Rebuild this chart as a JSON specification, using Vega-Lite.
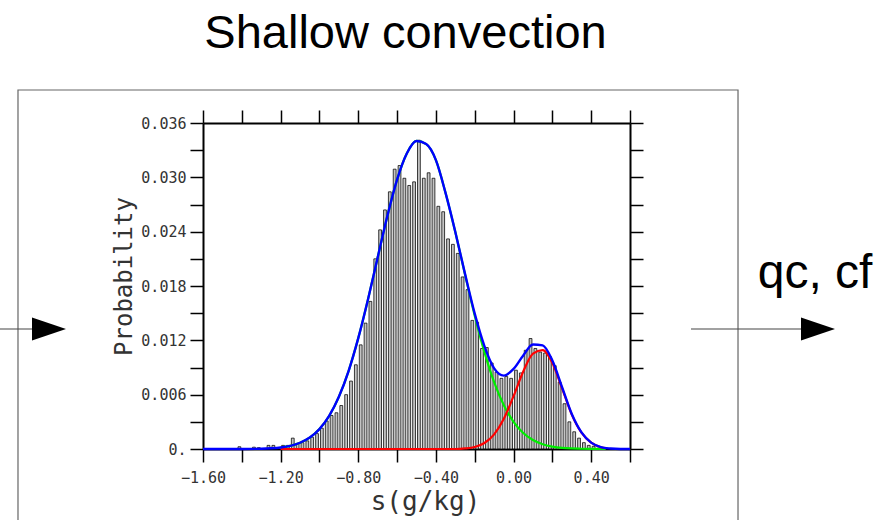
{
  "$schema": "https://vega.github.io/schema/vega-lite/v6.json",
  "autosize": "none",
  "width": 427,
  "height": 326,
  "padding": {"left": 203, "top": 123, "right": 252, "bottom": 71},
  "background": "white",
  "config": {"view": {"stroke": null}, "axis": {"grid": false}, "scale": {"continuousPadding": 0}},
  "datasets": {
    "bars": [
      {"c": -1.4125, "v": 0.00025}, {"c": -1.3375, "v": 0.0002}, {"c": -1.3125, "v": 0.00015},
      {"c": -1.2625, "v": 0.0004}, {"c": -1.2375, "v": 0.0004}, {"c": -1.1875, "v": 0.0004},
      {"c": -1.1625, "v": 0.0004}, {"c": -1.1375, "v": 0.0012}, {"c": -1.1125, "v": 0.0006},
      {"c": -1.0875, "v": 0.0007}, {"c": -1.0625, "v": 0.0009}, {"c": -1.0375, "v": 0.0013},
      {"c": -1.0125, "v": 0.0017}, {"c": -0.9875, "v": 0.0023}, {"c": -0.9625, "v": 0.0031},
      {"c": -0.9375, "v": 0.0037}, {"c": -0.9125, "v": 0.004}, {"c": -0.8875, "v": 0.0048},
      {"c": -0.8625, "v": 0.006}, {"c": -0.8375, "v": 0.0075}, {"c": -0.8125, "v": 0.0093},
      {"c": -0.7875, "v": 0.0115}, {"c": -0.7625, "v": 0.0139}, {"c": -0.7375, "v": 0.0163},
      {"c": -0.7125, "v": 0.021}, {"c": -0.6875, "v": 0.0242}, {"c": -0.6625, "v": 0.0264},
      {"c": -0.6375, "v": 0.0284}, {"c": -0.6125, "v": 0.0309}, {"c": -0.5875, "v": 0.0313},
      {"c": -0.5625, "v": 0.0299}, {"c": -0.5375, "v": 0.0291}, {"c": -0.5125, "v": 0.0295},
      {"c": -0.4875, "v": 0.0341}, {"c": -0.4625, "v": 0.0299}, {"c": -0.4375, "v": 0.0305},
      {"c": -0.4125, "v": 0.0299}, {"c": -0.3875, "v": 0.0268}, {"c": -0.3625, "v": 0.0262},
      {"c": -0.3375, "v": 0.0232}, {"c": -0.3125, "v": 0.0226}, {"c": -0.2875, "v": 0.0216},
      {"c": -0.2625, "v": 0.019}, {"c": -0.2375, "v": 0.0176}, {"c": -0.2125, "v": 0.0142},
      {"c": -0.1875, "v": 0.014}, {"c": -0.1625, "v": 0.0111}, {"c": -0.1375, "v": 0.0112},
      {"c": -0.1125, "v": 0.0095}, {"c": -0.0875, "v": 0.0085}, {"c": -0.0625, "v": 0.0078},
      {"c": -0.0375, "v": 0.008}, {"c": -0.0125, "v": 0.0078}, {"c": 0.0125, "v": 0.0087},
      {"c": 0.0375, "v": 0.0084}, {"c": 0.0625, "v": 0.0109}, {"c": 0.0875, "v": 0.0122},
      {"c": 0.1125, "v": 0.0111}, {"c": 0.1375, "v": 0.0107}, {"c": 0.1625, "v": 0.0106},
      {"c": 0.1875, "v": 0.0102}, {"c": 0.2125, "v": 0.0092}, {"c": 0.2375, "v": 0.0074},
      {"c": 0.2625, "v": 0.005}, {"c": 0.2875, "v": 0.003}, {"c": 0.3125, "v": 0.0019},
      {"c": 0.3375, "v": 0.0012}, {"c": 0.3625, "v": 0.0007}, {"c": 0.3875, "v": 0.0004},
      {"c": 0.4125, "v": 0.0003}, {"c": 0.4375, "v": 0.0001}
    ],
    "blue": [
      {"s": -1.6, "v": 0}, {"s": -1.4, "v": 0}, {"s": -1.3, "v": 0.00003}, {"s": -1.25, "v": 0.00008},
      {"s": -1.2, "v": 0.00017}, {"s": -1.15, "v": 0.00035}, {"s": -1.1, "v": 0.00069}, {"s": -1.05, "v": 0.00126},
      {"s": -1.0, "v": 0.0022}, {"s": -0.95, "v": 0.00365}, {"s": -0.9, "v": 0.00576}, {"s": -0.85, "v": 0.00861},
      {"s": -0.8, "v": 0.01224}, {"s": -0.75, "v": 0.01651}, {"s": -0.7, "v": 0.02116}, {"s": -0.65, "v": 0.02574},
      {"s": -0.6, "v": 0.02975}, {"s": -0.55, "v": 0.03264}, {"s": -0.5, "v": 0.03402}, {"s": -0.45, "v": 0.03367},
      {"s": -0.4, "v": 0.0319}, {"s": -0.35, "v": 0.02825}, {"s": -0.3, "v": 0.02397}, {"s": -0.25, "v": 0.01934},
      {"s": -0.2, "v": 0.01495}, {"s": -0.15, "v": 0.01136}, {"s": -0.1, "v": 0.0089}, {"s": -0.05, "v": 0.0081},
      {"s": 0.0, "v": 0.00884}, {"s": 0.05, "v": 0.01033}, {"s": 0.1, "v": 0.01154}, {"s": 0.15, "v": 0.01144},
      {"s": 0.2, "v": 0.00977}, {"s": 0.25, "v": 0.00683}, {"s": 0.3, "v": 0.00386}, {"s": 0.35, "v": 0.00183},
      {"s": 0.4, "v": 0.0007}, {"s": 0.45, "v": 0.0002}, {"s": 0.5, "v": 0.00005}, {"s": 0.55, "v": 0}, {"s": 0.6, "v": 0}
    ],
    "green": [
      {"s": -1.2, "v": 0.00017}, {"s": -1.15, "v": 0.00035}, {"s": -1.1, "v": 0.00069}, {"s": -1.05, "v": 0.00126},
      {"s": -1.0, "v": 0.0022}, {"s": -0.95, "v": 0.00365}, {"s": -0.9, "v": 0.00576}, {"s": -0.85, "v": 0.00861},
      {"s": -0.8, "v": 0.01224}, {"s": -0.75, "v": 0.01651}, {"s": -0.7, "v": 0.02116}, {"s": -0.65, "v": 0.02574},
      {"s": -0.6, "v": 0.02975}, {"s": -0.55, "v": 0.03264}, {"s": -0.5, "v": 0.03402}, {"s": -0.45, "v": 0.03367},
      {"s": -0.4, "v": 0.0319}, {"s": -0.35, "v": 0.02825}, {"s": -0.3, "v": 0.02395}, {"s": -0.25, "v": 0.01928},
      {"s": -0.2, "v": 0.01473}, {"s": -0.15, "v": 0.0107}, {"s": -0.1, "v": 0.00738}, {"s": -0.05, "v": 0.00483},
      {"s": 0.0, "v": 0.003}, {"s": 0.05, "v": 0.00177}, {"s": 0.1, "v": 0.001}, {"s": 0.15, "v": 0.00053},
      {"s": 0.2, "v": 0.00027}, {"s": 0.25, "v": 0.00013}, {"s": 0.3, "v": 0.00006}, {"s": 0.35, "v": 0.00003},
      {"s": 0.4, "v": 0.00001}, {"s": 0.475, "v": 0}
    ],
    "red": [
      {"s": -1.2, "v": 0}, {"s": -0.3, "v": 0}, {"s": -0.25, "v": 0.00006}, {"s": -0.2, "v": 0.00022},
      {"s": -0.15, "v": 0.00066}, {"s": -0.1, "v": 0.00162}, {"s": -0.05, "v": 0.00335}, {"s": 0.0, "v": 0.00584},
      {"s": 0.05, "v": 0.00856}, {"s": 0.1, "v": 0.01054}, {"s": 0.15, "v": 0.01091}, {"s": 0.2, "v": 0.0095},
      {"s": 0.25, "v": 0.0067}, {"s": 0.3, "v": 0.0038}, {"s": 0.35, "v": 0.0018}, {"s": 0.4, "v": 0.0007},
      {"s": 0.45, "v": 0.0002}, {"s": 0.475, "v": 0.0001}
    ]
  },
  "layer": [
    {
      "data": {"values": [{}]},
      "mark": {"type": "rect", "fillOpacity": 0, "stroke": "#666666", "strokeWidth": 1.2},
      "encoding": {
        "x": {"datum": -2.5532, "type": "quantitative", "scale": {"domain": [-1.6, 0.6], "nice": false, "zero": false, "padding": 0}, "axis": null},
        "x2": {"datum": 1.1565},
        "y": {"datum": 0.039644, "type": "quantitative", "scale": {"domain": [0, 0.036], "nice": false, "padding": 0}, "axis": null},
        "y2": {"datum": -0.0095}
      }
    },
    {
      "data": {"name": "bars"},
      "mark": {"type": "bar", "size": 2.8, "fill": "#c4c4c4", "stroke": "black", "strokeWidth": 0.75},
      "encoding": {
        "x": {
          "field": "c", "type": "quantitative",
          "scale": {"domain": [-1.6, 0.6], "nice": false, "zero": false, "padding": 0},
          "axis": {
            "orient": "bottom",
            "values": [-1.6, -1.4, -1.2, -1.0, -0.8, -0.6, -0.4, -0.2, 0, 0.2, 0.4, 0.6],
            "labelExpr": "abs(round(datum.value*10)) % 4 == 0 && datum.value < 0.5 ? format(datum.value, '.2f') : ''",
            "tickSize": 13, "tickWidth": 1.5, "tickColor": "black",
            "domainColor": "black", "domainWidth": 2,
            "labelFont": "DejaVu Sans Mono", "labelFontSize": 15, "labelColor": "#333333",
            "labelPadding": 8, "labelOverlap": false, "labelFlush": false, "labelBound": false,
            "title": "s(g/kg)", "titleFont": "DejaVu Sans Mono", "titleFontSize": 26,
            "titleFontWeight": "normal", "titleColor": "#333333", "titlePadding": 3, "titleX": 222, "grid": false
          }
        },
        "y": {
          "field": "v", "type": "quantitative",
          "scale": {"domain": [0, 0.036], "nice": false, "padding": 0},
          "axis": {
            "orient": "left",
            "values": [0, 0.003, 0.006, 0.009, 0.012, 0.015, 0.018, 0.021, 0.024, 0.027, 0.03, 0.033, 0.036],
            "labelExpr": "round(datum.value*1000) % 6 == 0 ? (datum.value == 0 ? '0.' : format(datum.value, '.3f')) : ''",
            "tickSize": 13, "tickWidth": 1.5, "tickColor": "black",
            "domainColor": "black", "domainWidth": 2,
            "labelFont": "DejaVu Sans Mono", "labelFontSize": 15, "labelColor": "#333333",
            "labelPadding": 4, "labelOverlap": false, "labelFlush": false, "labelBound": false,
            "title": "Probability", "titleFont": "DejaVu Sans Mono", "titleFontSize": 24,
            "titleFontWeight": "normal", "titleColor": "#333333", "titlePadding": 4, "titleY": 153, "grid": false
          }
        }
      }
    },
    {
      "data": {"name": "green"},
      "mark": {"type": "line", "color": "#00ee00", "strokeWidth": 2.2, "interpolate": "monotone"},
      "encoding": {
        "x": {"field": "s", "type": "quantitative", "scale": {"domain": [-1.6, 0.6], "nice": false, "zero": false, "padding": 0}, "axis": null},
        "y": {"field": "v", "type": "quantitative", "scale": {"domain": [0, 0.036], "nice": false, "padding": 0}, "axis": null}
      }
    },
    {
      "data": {"name": "red"},
      "mark": {"type": "line", "color": "#ff0000", "strokeWidth": 2.2, "interpolate": "monotone"},
      "encoding": {
        "x": {"field": "s", "type": "quantitative", "scale": {"domain": [-1.6, 0.6], "nice": false, "zero": false, "padding": 0}, "axis": null},
        "y": {"field": "v", "type": "quantitative", "scale": {"domain": [0, 0.036], "nice": false, "padding": 0}, "axis": null}
      }
    },
    {
      "data": {"name": "blue"},
      "mark": {"type": "line", "color": "#0000ff", "strokeWidth": 2.4, "interpolate": "monotone"},
      "encoding": {
        "x": {
          "field": "s", "type": "quantitative",
          "scale": {"domain": [-1.6, 0.6], "nice": false, "zero": false, "padding": 0},
          "axis": {
            "orient": "top", "labels": false, "title": null,
            "values": [-1.6, -1.4, -1.2, -1.0, -0.8, -0.6, -0.4, -0.2, 0, 0.2, 0.4, 0.6],
            "tickSize": 13, "tickWidth": 1.5, "tickColor": "black",
            "domainColor": "black", "domainWidth": 2, "grid": false
          }
        },
        "y": {
          "field": "v", "type": "quantitative",
          "scale": {"domain": [0, 0.036], "nice": false, "padding": 0},
          "axis": {
            "orient": "right", "labels": false, "title": null,
            "values": [0, 0.003, 0.006, 0.009, 0.012, 0.015, 0.018, 0.021, 0.024, 0.027, 0.03, 0.033, 0.036],
            "tickSize": 13, "tickWidth": 1.5, "tickColor": "black",
            "domainColor": "black", "domainWidth": 2, "grid": false
          }
        }
      }
    },
    {
      "data": {"values": [{}]},
      "mark": {"type": "rule", "color": "#444444", "strokeWidth": 1.2},
      "encoding": {
        "x": {"datum": -2.6459, "type": "quantitative", "scale": {"domain": [-1.6, 0.6], "nice": false, "zero": false, "padding": 0}, "axis": null},
        "x2": {"datum": -2.4398},
        "y": {"datum": 0.013252, "type": "quantitative", "scale": {"domain": [0, 0.036], "nice": false, "padding": 0}, "axis": null}
      }
    },
    {
      "data": {"values": [{}]},
      "mark": {"type": "rule", "color": "#444444", "strokeWidth": 1.2},
      "encoding": {
        "x": {"datum": 0.9143, "type": "quantitative", "scale": {"domain": [-1.6, 0.6], "nice": false, "zero": false, "padding": 0}, "axis": null},
        "x2": {"datum": 1.5017},
        "y": {"datum": 0.013252, "type": "quantitative", "scale": {"domain": [0, 0.036], "nice": false, "padding": 0}, "axis": null}
      }
    },
    {
      "data": {"values": [{}]},
      "mark": {"type": "point", "shape": "M-1,-0.68L1,0L-1,0.68Z", "size": 1156, "filled": true, "fill": "black", "opacity": 1, "strokeWidth": 0},
      "encoding": {
        "x": {"datum": -2.3934, "type": "quantitative", "scale": {"domain": [-1.6, 0.6], "nice": false, "zero": false, "padding": 0}, "axis": null},
        "y": {"datum": 0.013252, "type": "quantitative", "scale": {"domain": [0, 0.036], "nice": false, "padding": 0}, "axis": null}
      }
    },
    {
      "data": {"values": [{}]},
      "mark": {"type": "point", "shape": "M-1,-0.68L1,0L-1,0.68Z", "size": 1156, "filled": true, "fill": "black", "opacity": 1, "strokeWidth": 0},
      "encoding": {
        "x": {"datum": 1.5686, "type": "quantitative", "scale": {"domain": [-1.6, 0.6], "nice": false, "zero": false, "padding": 0}, "axis": null},
        "y": {"datum": 0.013252, "type": "quantitative", "scale": {"domain": [0, 0.036], "nice": false, "padding": 0}, "axis": null}
      }
    },
    {
      "data": {"values": [{}]},
      "mark": {"type": "text", "text": "qc, cf", "font": "Liberation Sans", "fontSize": 48, "align": "left", "baseline": "alphabetic", "color": "black"},
      "encoding": {
        "x": {"datum": 1.258, "type": "quantitative", "scale": {"domain": [-1.6, 0.6], "nice": false, "zero": false, "padding": 0}, "axis": null},
        "y": {"datum": 0.017779, "type": "quantitative", "scale": {"domain": [0, 0.036], "nice": false, "padding": 0}, "axis": null}
      }
    },
    {
      "data": {"values": [{}]},
      "mark": {"type": "text", "text": "Shallow convection", "font": "Liberation Sans", "fontSize": 47, "align": "center", "baseline": "alphabetic", "color": "black"},
      "encoding": {
        "x": {"datum": -0.5567, "type": "quantitative", "scale": {"domain": [-1.6, 0.6], "nice": false, "zero": false, "padding": 0}, "axis": null},
        "y": {"datum": 0.044282, "type": "quantitative", "scale": {"domain": [0, 0.036], "nice": false, "padding": 0}, "axis": null}
      }
    }
  ],
  "resolve": {"axis": {"x": "independent", "y": "independent"}}
}
